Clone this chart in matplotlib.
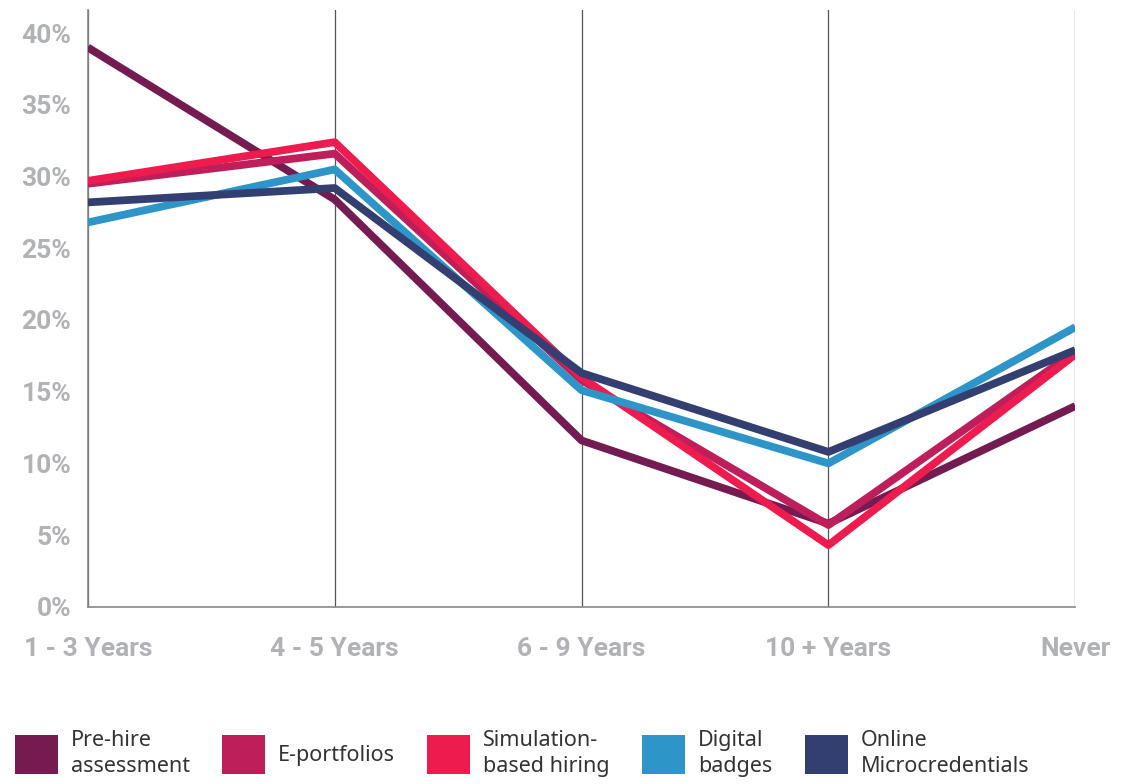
import matplotlib.pyplot as plt
from matplotlib.patches import Patch

categories = ["1 - 3 Years", "4 - 5 Years", "6 - 9 Years", "10 + Years", "Never"]
series_names = [
    "Pre-hire\nassessment",
    "E-portfolios",
    "Simulation-\nbased hiring",
    "Digital\nbadges",
    "Online\nMicrocredentials",
]
pre_hire = [39.0, 28.4, 11.6, 5.8, 14.0]
e_portfolios = [29.5, 31.6, 15.8, 5.7, 17.8]
simulation = [29.7, 32.4, 16.0, 4.3, 17.6]
digital_badges = [26.8, 30.5, 15.1, 10.0, 19.5]
online_micro = [28.2, 29.2, 16.3, 10.8, 17.9]
yticks = [0, 5, 10, 15, 20, 25, 30, 35, 40]

colors = ["#741b52", "#be1e5a", "#ee1b4f", "#2e95c9", "#333f70"]
all_series = [pre_hire, e_portfolios, simulation, digital_badges, online_micro]

fig = plt.figure(figsize=(11.26, 7.84), dpi=100)
ax = fig.add_axes([0.078, 0.226, 0.877, 0.761])

x = list(range(len(categories)))
for xi in x:
    ax.axvline(xi, color="#555555", linewidth=0.9, zorder=1)

for vals, col in zip(all_series, colors):
    ax.plot(x, vals, color=col, linewidth=5.6, solid_capstyle="butt", zorder=3)

ax.set_xlim(0, 4)
ax.set_ylim(0, 41.6)
ax.set_yticks(yticks)
ax.set_yticklabels([f"{v}%" for v in yticks])
ax.set_xticks(x)
ax.set_xticklabels(categories)

tick_color = "#b1b2b6"
for lab in ax.get_xticklabels() + ax.get_yticklabels():
    lab.set_fontweight("bold")
    lab.set_fontsize(19)
    lab.set_color(tick_color)
    lab.set_family("Roboto")
ax.tick_params(axis="both", length=0)
ax.tick_params(axis="x", pad=22)
ax.tick_params(axis="y", pad=12)

for side in ["top", "right"]:
    ax.spines[side].set_visible(False)
for side in ["left", "bottom"]:
    ax.spines[side].set_color("#888888")
    ax.spines[side].set_linewidth(1.2)

handles = [Patch(facecolor=c, edgecolor="none") for c in colors]
leg = fig.legend(
    handles,
    series_names,
    loc="lower left",
    bbox_to_anchor=(-0.004, -0.016),
    ncol=5,
    frameon=False,
    handlelength=2.0,
    handleheight=2.4,
    handletextpad=0.6,
    columnspacing=1.5,
    prop={"family": "Noto Sans", "size": 15.5},
)
for t in leg.get_texts():
    t.set_color("#333333")
    t.set_linespacing(1.35)

fig.savefig("out.png", dpi=100)
